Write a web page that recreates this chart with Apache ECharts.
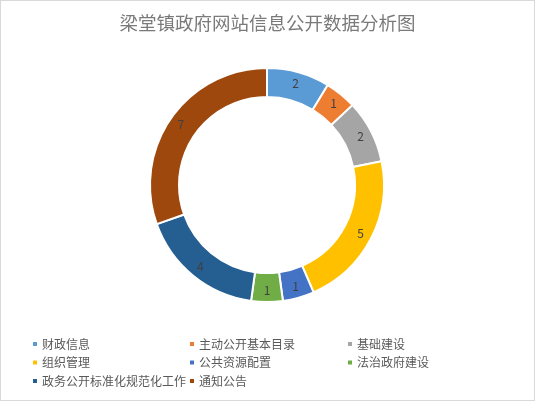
<!DOCTYPE html>
<html><head><meta charset="utf-8">
<script src="https://cdn.jsdelivr.net/npm/echarts@6/dist/echarts.min.js"></script>
<style>html,body{margin:0;padding:0;background:#fff}#c{width:535px;height:401px;box-sizing:border-box;border:1px solid #d9d9d9}</style>
</head><body><div id="c"></div>
<script>
const titleText = '梁堂镇政府网站信息公开数据分析图';
const categories = ['财政信息','主动公开基本目录','基础建设','组织管理','公共资源配置','法治政府建设','政务公开标准化规范化工作','通知公告'];
const values = [2,1,2,5,1,1,4,7];
const colors = ['#5B9BD5','#ED7D31','#A5A5A5','#FFC000','#4472C4','#70AD47','#255E91','#9E480E'];
const legendCol1 = ['财政信息','组织管理','政务公开标准化规范化工作'];
const legendCol2 = ['主动公开基本目录','公共资源配置','通知公告'];
const legendCol3 = ['基础建设','法治政府建设'];

const font = '"Noto Sans CJK SC", "Microsoft YaHei", sans-serif';
const chart = echarts.init(document.getElementById('c'));
function mkLegend(data, left){
  return {
    data: data, orient:'vertical', left: left, top: 336,
    icon:'rect', itemWidth:6, itemHeight:6, itemGap:4.5,
    textStyle:{fontSize:12, color:'#595959', fontFamily:font, lineHeight:14, padding:[0,0,0,-1]},
    padding:0
  };
}
chart.setOption({
  animation:false,
  color: colors,
  title:{text:titleText, left:'center', top:8,
    textStyle:{fontSize:18.5, fontWeight:'normal', color:'#7a7a7a', fontFamily:font}},
  legend:[mkLegend(legendCol1,30), mkLegend(legendCol2,187), mkLegend(legendCol3,345)],
  series:[{
    type:'pie', center:[266,184], radius:[88,117], startAngle:90, clockwise:true,
    itemStyle:{borderColor:'#fff', borderWidth:2},
    label:{show:true, position:'inside', formatter:'{c}', fontSize:12, color:'#404040', fontFamily:font},
    labelLine:{show:false},
    emphasis:{disabled:true},
    data: categories.map((n,i)=>({name:n, value:values[i]}))
  }]
});
</script></body></html>
